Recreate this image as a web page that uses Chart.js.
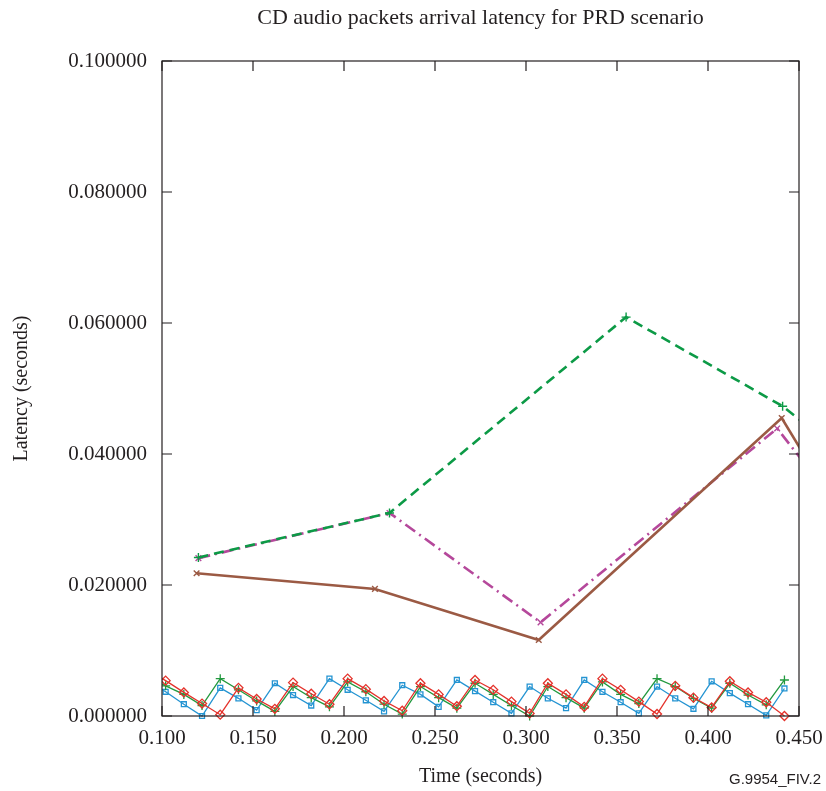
<!DOCTYPE html>
<html lang="en">
<head>
<meta charset="utf-8">
<title>CD audio packets arrival latency</title>
<script src="https://cdn.jsdelivr.net/npm/chart.js@4.4.1/dist/chart.umd.min.js"></script>
<style>
body {margin: 0; background: #fff;}
#wrap {position: relative; width: 826px; height: 791px;}
</style>
</head>
<body>
<div id="wrap"><canvas id="latChart"></canvas></div>
<script>
// arrival times (s) of the three periodic CD audio streams
var streamTimes = [0.092, 0.102, 0.112, 0.122, 0.132, 0.142, 0.152, 0.162, 0.172, 0.182, 0.192,
	0.202, 0.212, 0.222, 0.232, 0.242, 0.252, 0.262, 0.272, 0.282, 0.292,
	0.302, 0.312, 0.322, 0.332, 0.342, 0.352, 0.362, 0.372, 0.382, 0.392,
	0.402, 0.412, 0.422, 0.432, 0.442];
// latency (s) per packet
var streamRed = [0.0071, 0.0054, 0.0036, 0.0019, 0.0002, 0.0043, 0.0026, 0.0011, 0.0051, 0.0034, 0.0018,
	0.0057, 0.0041, 0.0023, 0.0008, 0.0050, 0.0033, 0.0015, 0.0055, 0.0040, 0.0022,
	0.0004, 0.0050, 0.0033, 0.0014, 0.0057, 0.0040, 0.0022, 0.0003, 0.0046, 0.0028,
	0.0013, 0.0053, 0.0036, 0.0021, 0.0000];
var streamBlue = [0.0055, 0.0037, 0.0018, 0.0000, 0.0043, 0.0027, 0.0009, 0.0050, 0.0032, 0.0016, 0.0057,
	0.0040, 0.0024, 0.0007, 0.0047, 0.0033, 0.0014, 0.0055, 0.0038, 0.0021, 0.0004,
	0.0045, 0.0027, 0.0012, 0.0055, 0.0037, 0.0021, 0.0004, 0.0045, 0.0027, 0.0011,
	0.0053, 0.0035, 0.0018, 0.0001, 0.0042];
var streamGreen = [0.0060, 0.0046, 0.0033, 0.0016, 0.0057, 0.0040, 0.0023, 0.0007, 0.0045, 0.0028, 0.0014,
	0.0052, 0.0037, 0.0018, 0.0003, 0.0045, 0.0028, 0.0012, 0.0050, 0.0033, 0.0016,
	0.0000, 0.0045, 0.0028, 0.0012, 0.0052, 0.0033, 0.0019, 0.0057, 0.0045, 0.0027,
	0.0012, 0.0050, 0.0032, 0.0017, 0.0055];

// aggregated latency curves
var dashTimes = [0.120, 0.225, 0.355, 0.441, 0.460];
var dashLatency = [0.0242, 0.0310, 0.0609, 0.0473, 0.0431];
var dotDashTimes = [0.120, 0.225, 0.308, 0.438, 0.460];
var dotDashLatency = [0.0241, 0.0310, 0.0143, 0.0439, 0.0361];
var solidTimes = [0.119, 0.217, 0.307, 0.4405, 0.460];
var solidLatency = [0.0218, 0.0194, 0.0116, 0.0455, 0.0366];

var xTicks = {min: 0.1, max: 0.45, step: 0.05};
var yTicks = {min: 0, max: 0.1, step: 0.02};

function points(xs, ys) {
	return xs.map(function (x, i) { return {x: x, y: ys[i]}; });
}

var ink = '#231f20';
var serif = 'Liberation Serif, Times New Roman, serif';

function sawtooth(label, xs, ys, color, style, radius) {
	return {
		label: label,
		data: points(xs, ys),
		borderColor: color,
		borderWidth: 1.3,
		pointStyle: style,
		pointRadius: radius,
		pointBorderWidth: 1.3,
		pointBorderColor: color,
		pointBackgroundColor: 'rgba(255,255,255,0)',
		tension: 0,
		clip: {left: 0, top: 6, right: 6, bottom: 6}
	};
}

// frame with gnuplot style ticks pointing inward on all four sides
var frameTicks = {
	id: 'frameTicks',
	afterDatasetsDraw: function (chart) {
		var ctx = chart.ctx, a = chart.chartArea;
		var sx = chart.scales.x, sy = chart.scales.y;
		ctx.save();
		ctx.strokeStyle = ink;
		ctx.lineWidth = 1.2;
		ctx.strokeRect(a.left, a.top, a.right - a.left, a.bottom - a.top);
		ctx.beginPath();
		sx.ticks.forEach(function (t) {
			var px = sx.getPixelForValue(t.value);
			ctx.moveTo(px, a.bottom); ctx.lineTo(px, a.bottom - 10);
			ctx.moveTo(px, a.top); ctx.lineTo(px, a.top + 10);
		});
		sy.ticks.forEach(function (t) {
			var py = sy.getPixelForValue(t.value);
			ctx.moveTo(a.left, py); ctx.lineTo(a.left + 10, py);
			ctx.moveTo(a.right, py); ctx.lineTo(a.right - 10, py);
		});
		ctx.stroke();
		ctx.restore();
	},
	afterDraw: function (chart) {
		var ctx = chart.ctx;
		ctx.save();
		ctx.fillStyle = ink;
		ctx.font = '15px Liberation Sans, Arial, sans-serif';
		ctx.textAlign = 'right';
		ctx.textBaseline = 'alphabetic';
		ctx.fillText('G.9954_FIV.2', 821, 784);
		ctx.restore();
	}
};

var ctx = document.getElementById('latChart').getContext('2d');
var latChart = new Chart(ctx, {
	type: 'line',
	data: {
		datasets: [
			{
				label: 'total',
				data: points(solidTimes, solidLatency),
				borderColor: '#9b5a44',
				borderWidth: 2.6,
				pointStyle: 'crossRot',
				pointRadius: 4,
				pointBorderWidth: 1.4,
				tension: 0
			},
			{
				label: 'max',
				data: points(dashTimes, dashLatency),
				borderColor: '#0c9a46',
				borderWidth: 2.6,
				borderDash: [10, 6],
				pointStyle: 'cross',
				pointRadius: 4.5,
				pointBorderWidth: 1.4,
				tension: 0
			},
			{
				label: 'mean',
				data: points(dotDashTimes, dotDashLatency),
				borderColor: '#b5489b',
				borderWidth: 2.6,
				borderDash: [12, 5, 2, 5],
				pointStyle: 'crossRot',
				pointRadius: 4,
				pointBorderWidth: 1.4,
				tension: 0
			},
			sawtooth('stream 1', streamTimes, streamRed, '#e4322b', 'rectRot', 4.5),
			sawtooth('stream 2', streamTimes, streamGreen, '#22993f', 'cross', 4.5),
			sawtooth('stream 3', streamTimes, streamBlue, '#2494d2', 'rect', 3.5)
		]
	},
	plugins: [frameTicks],
	options: {
		responsive: true,
		maintainAspectRatio: false,
		animation: false,
		layout: {padding: 0},
		plugins: {
			legend: {display: false},
			tooltip: {enabled: false},
			title: {
				display: true,
				fullSize: false,
				text: 'CD audio packets arrival latency for PRD scenario',
				color: ink,
				font: {family: serif, size: 22, weight: 'normal'},
				padding: {top: 4.8, bottom: 29.8}
			}
		},
		scales: {
			x: {
				type: 'linear',
				min: xTicks.min,
				max: xTicks.max,
				grid: {display: false, drawTicks: false},
				border: {display: false},
				ticks: {
					stepSize: xTicks.step,
					maxRotation: 0,
					autoSkip: false,
					padding: 10,
					color: ink,
					font: {family: serif, size: 21},
					callback: function (v) { return v.toFixed(3); }
				},
				title: {
					display: true,
					text: 'Time (seconds)',
					color: ink,
					font: {family: serif, size: 20},
					padding: {top: 0, bottom: 2}
				},
				afterFit: function (scale) {
					scale.height = 75;
					scale.paddingRight = 27;
				}
			},
			y: {
				min: yTicks.min,
				max: yTicks.max,
				grid: {display: false, drawTicks: false},
				border: {display: false},
				ticks: {
					stepSize: yTicks.step,
					padding: 15,
					color: ink,
					font: {family: serif, size: 21},
					callback: function (v) { return v.toFixed(6); }
				},
				title: {
					display: true,
					text: 'Latency (seconds)',
					color: ink,
					font: {family: serif, size: 20},
					padding: {top: 10, bottom: 0}
				},
				afterFit: function (scale) { scale.width = 162; }
			}
		}
	}
});
</script>
</body>
</html>
